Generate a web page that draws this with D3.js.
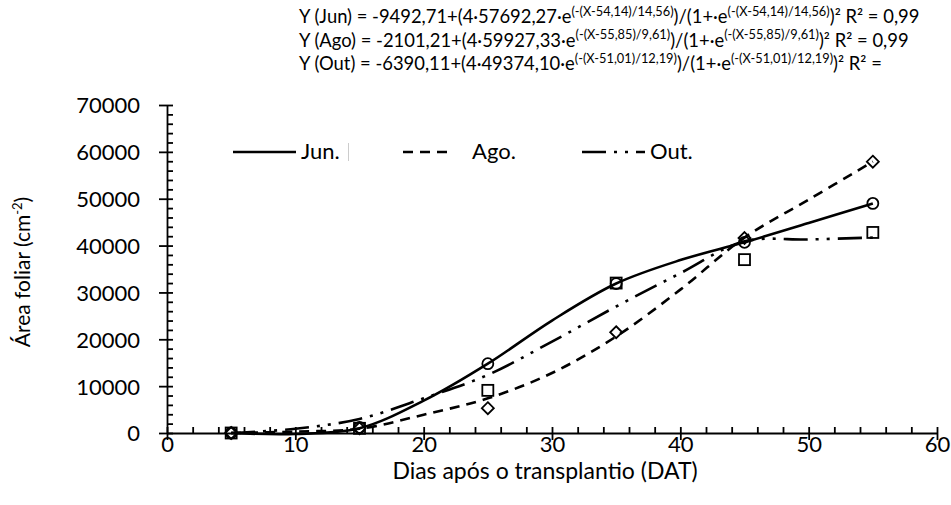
<!DOCTYPE html>
<html>
<head>
<meta charset="utf-8">
<script src="https://cdn.jsdelivr.net/npm/d3@7"></script>
<style>
  body { margin: 0; background: #fff; }
  text { font-family: Lato, "Open Sans", sans-serif; fill: #000; }
</style>
</head>
<body>
<div id="grafico"></div>
<script>
// observed leaf area per sampling date
var dias = [5, 15, 25, 35, 45, 55];
var junObs = [0, 1200, 14800, 31900, 40700, 49000];
var agoObs = [0, 1000, 5300, 21500, 41600, 57900];
var outObs = [0, 1000, 9100, 32000, 37000, 42800];

// fitted curves
var diasCurva = [5, 10, 15, 20, 25, 30, 35, 40, 45, 50, 55];
var junCurva = [0, -200, 1000, 6900, 14800, 24000, 31900, 36900, 40700, 44800, 49000];
var agoCurva = [0, 300, 900, 3900, 7400, 12800, 20600, 30600, 41700, 49800, 57900];
var outCurva = [0, 900, 3000, 7400, 12400, 19500, 27000, 34100, 40900, 41300, 41700];

var xTicks = [0, 10, 20, 30, 40, 50, 60];
var yTicks = [0, 10000, 20000, 30000, 40000, 50000, 60000, 70000];
var legenda = ["Jun.", "Ago.", "Out."];

var equacoes = [
  ["Y (Jun) = -9492,71+(4·57692,27·e", "(-(X-54,14)/14,56)", ")/(1+·e", "(-(X-54,14)/14,56)", ")² R² = 0,99"],
  ["Y (Ago) = -2101,21+(4·59927,33·e", "(-(X-55,85)/9,61)", ")/(1+·e", "(-(X-55,85)/9,61)", ")² R² = 0,99"],
  ["Y (Out) = -6390,11+(4·49374,10·e", "(-(X-51,01)/12,19)", ")/(1+·e", "(-(X-51,01)/12,19)", ")² R² ="]
];

var W = 951, H = 505;
var margin = { top: 105, left: 167, right: 14, bottom: 72 };
var width = W - margin.left - margin.right,
    height = H - margin.top - margin.bottom;

var svg = d3.select("#grafico")
  .append("svg")
    .attr("width", W)
    .attr("height", H);

var g = svg.append("g")
    .attr("transform", "translate(" + margin.left + "," + margin.top + ")");

var x = d3.scaleLinear().domain([0, 60]).range([0, width]);
var y = d3.scaleLinear().domain([0, 70000]).range([height, 0]);

// minor ticks (inside)
g.append("g")
    .attr("transform", "translate(0," + height + ")")
    .call(d3.axisBottom(x).tickValues(d3.range(0, 61, 2)).tickSize(-6).tickFormat(""))
    .call(a => a.select(".domain").remove());
g.append("g")
    .call(d3.axisLeft(y).tickValues(d3.range(0, 70001, 2000)).tickSize(-6).tickFormat(""))
    .call(a => a.select(".domain").remove());

// major axes
var xAxis = g.append("g")
    .attr("transform", "translate(0," + height + ")")
    .call(d3.axisBottom(x).tickValues(xTicks).tickSizeInner(7).tickSizeOuter(0));
xAxis.selectAll("text").attr("y", 19).attr("dy", 0).style("font-size", "22px");

var yAxis = g.append("g")
    .call(d3.axisLeft(y).tickValues(yTicks).tickFormat(d3.format("d")).tickSizeInner(8).tickSizeOuter(0));
yAxis.selectAll("text").attr("x", -27).attr("dy", "0.36em").style("font-size", "22px");

g.selectAll(".domain, .tick line").attr("stroke", "#000").attr("stroke-width", 1.8);

// axis titles
svg.append("text")
    .attr("x", 545)
    .attr("y", 479)
    .attr("text-anchor", "middle")
    .style("font-size", "23px")
    .text("Dias após o transplantio (DAT)");

var yt = svg.append("text")
    .attr("transform", "translate(30,272) rotate(-90)")
    .attr("text-anchor", "middle")
    .style("font-size", "21px");
yt.append("tspan").text("Área foliar (cm");
yt.append("tspan").attr("dy", -8).style("font-size", "13px").text("-2");
yt.append("tspan").attr("dy", 8).text(")");

// curves
var estilos = [
  { curva: junCurva, dash: null },
  { curva: agoCurva, dash: "10,7" },
  { curva: outCurva, dash: "24,8,3,8,3,8" }
];

var linha = d3.line()
    .x(function (d) { return x(d[0]); })
    .y(function (d) { return y(d[1]); })
    .curve(d3.curveCatmullRom);

estilos.forEach(function (s) {
  g.append("path")
    .datum(d3.zip(diasCurva, s.curva))
    .attr("d", linha)
    .attr("fill", "none")
    .attr("stroke", "#000")
    .attr("stroke-width", 2.6)
    .attr("stroke-dasharray", s.dash);
});

// markers
g.append("g").selectAll("circle")
    .data(d3.zip(dias, junObs))
    .enter().append("circle")
      .attr("cx", function (d) { return x(d[0]); })
      .attr("cy", function (d) { return y(d[1]); })
      .attr("r", 5.5)
      .attr("fill", "none")
      .attr("stroke", "#000")
      .attr("stroke-width", 1.8);

g.append("g").selectAll("path")
    .data(d3.zip(dias, agoObs))
    .enter().append("path")
      .attr("transform", function (d) { return "translate(" + x(d[0]) + "," + y(d[1]) + ")"; })
      .attr("d", "M0,-6L6,0L0,6L-6,0Z")
      .attr("fill", "none")
      .attr("stroke", "#000")
      .attr("stroke-width", 1.8);

g.append("g").selectAll("rect")
    .data(d3.zip(dias, outObs))
    .enter().append("rect")
      .attr("x", function (d) { return x(d[0]) - 5.5; })
      .attr("y", function (d) { return y(d[1]) - 5.5; })
      .attr("width", 11)
      .attr("height", 11)
      .attr("fill", "none")
      .attr("stroke", "#000")
      .attr("stroke-width", 1.8);

// legend
var leg = svg.append("g");
var legX = [[233, 296, 301], [403, 453, 472], [582, 645, 650]];
legenda.forEach(function (t, i) {
  leg.append("line")
    .attr("x1", legX[i][0]).attr("x2", legX[i][1])
    .attr("y1", 152).attr("y2", 152)
    .attr("stroke", "#000")
    .attr("stroke-width", 2.6)
    .attr("stroke-dasharray", estilos[i].dash);
  leg.append("text")
    .attr("x", legX[i][2])
    .attr("y", 159)
    .style("font-size", "22px")
    .text(t);
});
leg.append("line")
    .attr("x1", 348.5).attr("x2", 348.5)
    .attr("y1", 143).attr("y2", 161)
    .attr("stroke", "#ccc")
    .attr("stroke-width", 1);

// equations
equacoes.forEach(function (partes, i) {
  var t = svg.append("text")
      .attr("x", 299)
      .attr("y", 23 + i * 23.5)
      .style("font-size", "18.4px");
  partes.forEach(function (p, j) {
    var sup = j % 2 === 1;
    t.append("tspan")
      .attr("dy", sup ? -7.5 : (j > 0 ? 7.5 : 0))
      .style("font-size", sup ? "12.8px" : "18.4px")
      .text(p);
  });
});
</script>
</body>
</html>
